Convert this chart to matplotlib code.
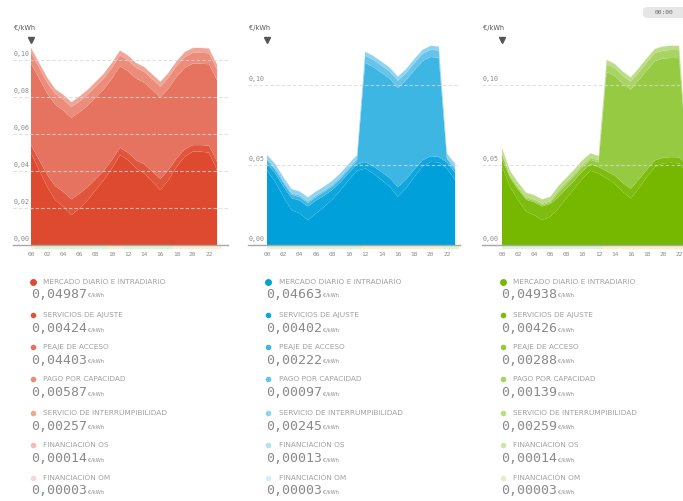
import matplotlib
matplotlib.use("Agg")
import matplotlib.pyplot as plt
from matplotlib.patches import FancyBboxPatch, Rectangle

W, H = 683, 501

hours = list(range(24))
hour_labels = ["00", "02", "04", "06", "08", "10", "12", "14", "16", "18", "20", "22"]

component_labels = [
    "MERCADO DIARIO E INTRADIARIO",
    "SERVICIOS DE AJUSTE",
    "PEAJE DE ACCESO",
    "PAGO POR CAPACIDAD",
    "SERVICIO DE INTERRUMPIBILIDAD",
    "FINANCIACIÓN OS",
    "FINANCIACIÓN OM",
]

# ---- Tarifa 2.0A (€/kWh por hora) ----
a_mercado = [0.04987, 0.0405, 0.0315, 0.0243, 0.0207, 0.0162, 0.0198, 0.0243,
             0.0297, 0.0351, 0.0414, 0.0486, 0.0459, 0.0414, 0.0387, 0.0342,
             0.0297, 0.0351, 0.0423, 0.0477, 0.0505, 0.0505, 0.0499, 0.0405]
a_ajuste = [0.00424, 0.0055, 0.0065, 0.0075, 0.0080, 0.0085, 0.0080, 0.0070,
            0.0060, 0.0050, 0.0045, 0.0040, 0.0040, 0.0045, 0.0050, 0.0055,
            0.0060, 0.0055, 0.0045, 0.0040, 0.0035, 0.0035, 0.0038, 0.0045]
a_peaje = [0.04403] * 24
a_capacidad = [0.00587] * 24
a_interrump = [0.00257] * 24
a_fin_os = [0.00014] * 24
a_fin_om = [0.00003] * 24

# ---- Tarifa 2.0DHA ----
dha_mercado = [0.04663, 0.0395, 0.0302, 0.0218, 0.0198, 0.0156, 0.0198, 0.0239,
               0.0285, 0.0343, 0.0406, 0.0464, 0.0478, 0.0447, 0.0406, 0.0364,
               0.0302, 0.0354, 0.0426, 0.0489, 0.0520, 0.0516, 0.0478, 0.0406]
dha_ajuste = [0.00402, 0.0055, 0.0065, 0.0075, 0.0080, 0.0085, 0.0080, 0.0070,
              0.0060, 0.0050, 0.0045, 0.0040, 0.0040, 0.0045, 0.0050, 0.0055,
              0.0060, 0.0055, 0.0045, 0.0040, 0.0035, 0.0035, 0.0038, 0.0045]
dha_peaje = [0.00222] * 12 + [0.06201] * 10 + [0.00222] * 2
dha_capacidad = [0.00097] * 12 + [0.0045] * 10 + [0.00097] * 2
dha_interrump = [0.00245] * 24
dha_fin_os = [0.00013] * 24
dha_fin_om = [0.00003] * 24

# ---- Tarifa 2.0DHS ----
dhs_mercado = [0.04938, 0.0364, 0.0281, 0.0208, 0.0187, 0.0156, 0.0177, 0.0229,
               0.0291, 0.0354, 0.0416, 0.0464, 0.0447, 0.0416, 0.0385, 0.0333,
               0.0291, 0.0354, 0.0426, 0.0489, 0.0510, 0.0514, 0.0510, 0.0450]
dhs_ajuste = [0.00426, 0.0055, 0.0065, 0.0075, 0.0080, 0.0085, 0.0080, 0.0070,
              0.0060, 0.0050, 0.0045, 0.0040, 0.0040, 0.0045, 0.0050, 0.0055,
              0.0060, 0.0055, 0.0045, 0.0040, 0.0035, 0.0035, 0.0038, 0.0045]
dhs_peaje = [0.00288] + [0.00089] * 6 + [0.00288] * 6 + [0.06201] * 10 + [0.00288]
dhs_capacidad = [0.00139] + [0.0009] * 6 + [0.00139] * 6 + [0.0050] * 10 + [0.00139]
dhs_interrump = [0.00259] * 24
dhs_fin_os = [0.00014] * 24
dhs_fin_om = [0.00003] * 24

a_ticks = [0.00, 0.02, 0.04, 0.06, 0.08, 0.10]
dh_ticks = [0.00, 0.05, 0.10]

red_shades = ["#de4a30", "#e0553b", "#e6735f", "#ec8c7a", "#f0a596", "#f5bdb2", "#f9d6cf"]
blue_shades = ["#00a0db", "#0fa6de", "#3db6e3", "#66c4ea", "#8ed3ef", "#b3e1f4", "#d4eef9"]
green_shades = ["#76b800", "#7ebc10", "#97ca43", "#a9d363", "#bcdc85", "#cfe6a8", "#e2f0ca"]

# period strip colours below the time axis
strip_green = "#dff3d8"
strip_yellow = "#fbefcf"
a_strip = [strip_yellow] + [strip_green] * 9 + [strip_yellow] * 2 + [strip_green] * 6 + [strip_yellow] * 6
dha_strip = [strip_green] * 12 + [strip_yellow] * 10 + [strip_green] * 2
dhs_strip = [strip_green] * 13 + [strip_yellow] * 11

panels = [
    dict(series=[a_mercado, a_ajuste, a_peaje, a_capacidad, a_interrump, a_fin_os, a_fin_om],
         colors=red_shades, ticks=a_ticks, strip=a_strip,
         left=13, right=228, x0=31, pxh=8.09, scale=37 / 0.02,
         dot_x=33, label_x=43, value_x=31),
    dict(series=[dha_mercado, dha_ajuste, dha_peaje, dha_capacidad, dha_interrump, dha_fin_os, dha_fin_om],
         colors=blue_shades, ticks=dh_ticks, strip=dha_strip,
         left=248, right=460, x0=267, pxh=8.18, scale=80 / 0.05,
         dot_x=268, label_x=279, value_x=266),
    dict(series=[dhs_mercado, dhs_ajuste, dhs_peaje, dhs_capacidad, dhs_interrump, dhs_fin_os, dhs_fin_om],
         colors=green_shades, ticks=dh_ticks, strip=dhs_strip,
         left=482, right=698, x0=502, pxh=8.05, scale=80 / 0.05,
         dot_x=503, label_x=513, value_x=501),
]

BASE_Y = 245
TOP_Y = 30
MONO = "DejaVu Sans Mono"

fig = plt.figure(figsize=(W / 100, H / 100), dpi=100)
fig.patch.set_facecolor("white")


def fx(px):
    return px / W


def fy(py):
    return 1 - py / H


for p in panels:
    ax = fig.add_axes([fx(p["left"]), fy(BASE_Y), (p["right"] - p["left"]) / W, (BASE_Y - TOP_Y) / H])
    ax.set_axis_off()
    xl = -(p["x0"] - p["left"]) / p["pxh"]
    xr = (p["right"] - p["x0"]) / p["pxh"]
    ymax = (BASE_Y - TOP_Y) / p["scale"]
    ax.set_xlim(xl, xr)
    ax.set_ylim(0, ymax)

    ax.stackplot(hours, *p["series"], colors=p["colors"], linewidth=0, zorder=2)

    # grid
    for t in p["ticks"]:
        if t > 0:
            ax.plot([xl, xr], [t, t], ls=(0, (3, 2)), color="#d9d9d9", lw=0.8, alpha=0.8, zorder=3)
        ax.annotate(f"{t:.2f}".replace(".", ","), xy=(xl, t), xytext=(0.5, 6),
                    textcoords="offset pixels", fontsize=4.8, color="#8a8a8a",
                    ha="left", va="center", zorder=4, family=MONO)
    ax.plot([xl, xr], [0, 0], color="#a8a8a8", lw=1.0, zorder=4, clip_on=False)

    # period strip
    unit = 1 / p["scale"]
    for h, c in zip(hours, p["strip"]):
        ax.add_patch(Rectangle((h - 0.5 if h > 0 else 0, -4 * unit), 1 if h > 0 else 0.5, 3 * unit,
                               facecolor=c, edgecolor="none", clip_on=False, zorder=1))

    for i, lab in enumerate(hour_labels):
        ax.annotate(lab, xy=(2 * i, 0), xytext=(0, -9), textcoords="offset pixels",
                    fontsize=4.4, color="#8a8a8a", ha="center", va="center", family=MONO)

    # hour selector
    ax.plot([0], [(BASE_Y - 40) / p["scale"]], marker="v", color="#555555", ms=4.2,
            clip_on=False, zorder=5)
    fig.text(fx(p["left"] + 1), fy(28), "€/kWh", fontsize=4.8, color="#555555",
             ha="left", va="center")

    # legend with component values at 00h
    label_ys = [282, 315, 347, 379, 413, 445, 478]
    value_ys = [294, 329, 360, 393, 426, 459, 491]
    for i in range(7):
        ms = 5.5 if i == 0 else 4.2
        fig.add_artist(plt.Line2D([fx(p["dot_x"])], [fy(label_ys[i])], marker="o", ms=ms * 0.72,
                                  color=p["colors"][i], transform=fig.transFigure, lw=0))
        fig.text(fx(p["label_x"]), fy(label_ys[i]), component_labels[i], fontsize=5.3,
                 color="#a0a0a0", ha="left", va="center")
        val = p["series"][i][0]
        vtxt = f"{val:.5f}".replace(".", ",")
        fig.text(fx(p["value_x"]), fy(value_ys[i]), vtxt, fontsize=9.5, color="#8a8a8a",
                 ha="left", va="center", family=MONO)
        fig.text(fx(p["value_x"] + 57), fy(value_ys[i] + 1), "€/kWh", fontsize=3.6,
                 color="#8a8a8a", ha="left", va="center")

# time display
btn = FancyBboxPatch((fx(643), fy(18)), fx(50), 11 / H, boxstyle="round,pad=0,rounding_size=0.008",
                     transform=fig.transFigure, facecolor="#e6e6e6", edgecolor="none")
fig.add_artist(btn)
fig.text(fx(664), fy(12.5), "00:00", fontsize=4.5, color="#666666", ha="center", va="center",
         family=MONO)

fig.savefig("out.png", dpi=100, facecolor="white")
